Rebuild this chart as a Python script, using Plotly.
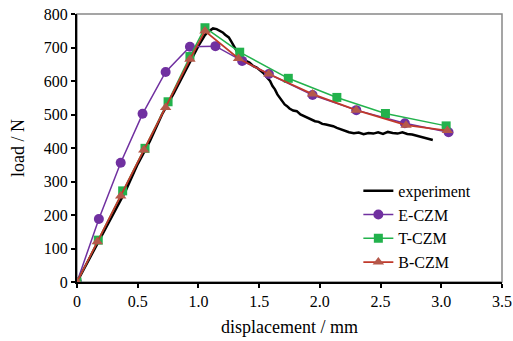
import plotly.graph_objects as go

exp_x = [0, 0.1, 0.2, 0.3, 0.4, 0.5, 0.6, 0.7, 0.8, 0.9, 1.0, 1.05, 1.08, 1.1, 1.12, 1.15, 1.18, 1.2,
         1.22, 1.25, 1.27, 1.29, 1.31, 1.33, 1.36, 1.39, 1.42, 1.45, 1.48, 1.51, 1.54, 1.57, 1.59, 1.61,
         1.63, 1.65, 1.67, 1.69, 1.71, 1.73, 1.75, 1.78, 1.81, 1.84, 1.87, 1.90, 1.93, 1.96, 1.99, 2.02,
         2.05, 2.08, 2.11, 2.14, 2.17, 2.20, 2.24, 2.28, 2.32, 2.36, 2.40, 2.44, 2.48, 2.52, 2.56, 2.60,
         2.64, 2.68, 2.72, 2.76, 2.80, 2.84, 2.88, 2.91, 2.93]
exp_y = [0, 68, 138, 205, 272, 352, 420, 500, 565, 635, 705, 735, 748, 752, 757, 755, 750, 745,
         738, 730, 718, 705, 695, 680, 672, 660, 655, 645, 640, 630, 622, 608, 600, 585,
         575, 560, 550, 540, 530, 525, 518, 512, 510, 500, 495, 490, 485, 480, 478, 472,
         470, 468, 465, 460, 456, 452, 447, 444, 446, 441, 445, 443, 447, 442, 448, 445,
         443, 447, 442, 440, 436, 433, 430, 427, 424]

e_x = [0, 0.18, 0.36, 0.54, 0.73, 0.93, 1.14, 1.36, 1.58, 1.94, 2.30, 2.70, 3.06]
e_y = [0, 188, 356, 502, 627, 702, 704, 660, 621, 558, 513, 474, 447]

t_x = [0, 0.175, 0.376, 0.56, 0.75, 0.93, 1.054, 1.34, 1.74, 2.14, 2.54, 3.04]
t_y = [0, 125, 272, 399, 538, 673, 759, 686, 608, 551, 503, 466]

b_x = [0, 0.167, 0.36, 0.55, 0.73, 0.93, 1.054, 1.33, 1.58, 1.94, 2.30, 2.71, 3.05]
b_y = [0, 120, 257, 394, 521, 665, 749, 667, 621, 561, 513, 468, 452]

x_ticks = [0, 0.5, 1.0, 1.5, 2.0, 2.5, 3.0, 3.5]
x_ticklabels = ["0", "0.5", "1.0", "1.5", "2.0", "2.5", "3.0", "3.5"]
y_ticks = [0, 100, 200, 300, 400, 500, 600, 700, 800]

font = "Liberation Serif"

fig = go.Figure()
fig.add_trace(go.Scatter(x=exp_x, y=exp_y, mode="lines", name="experiment",
                         line=dict(color="black", width=2.5)))
fig.add_trace(go.Scatter(x=e_x, y=e_y, mode="lines+markers", name="E-CZM",
                         line=dict(color="#7030A0", width=1.5),
                         marker=dict(symbol="circle", size=10, color="#7030A0")))
fig.add_trace(go.Scatter(x=t_x, y=t_y, mode="lines+markers", name="T-CZM",
                         line=dict(color="#22B24C", width=1.5),
                         marker=dict(symbol="square", size=9, color="#22B24C")))
fig.add_trace(go.Scatter(x=b_x, y=b_y, mode="lines+markers", name="B-CZM",
                         line=dict(color="#C0392B", width=1.8),
                         marker=dict(symbol="triangle-up", size=10, color="#B5584A")))

fig.add_shape(type="rect", xref="paper", yref="paper", x0=0, y0=0, x1=1, y1=1,
              line=dict(color="#888888", width=1.5), layer="below")

fig.update_layout(
    width=513, height=341,
    margin=dict(l=77, r=11, t=14, b=59),
    paper_bgcolor="white", plot_bgcolor="white",
    font=dict(family=font, size=16, color="black"),
    showlegend=True,
    legend=dict(x=0.662, y=0.404, xanchor="left", yanchor="top",
                bgcolor="rgba(0,0,0,0)", font=dict(size=16, family=font),
                tracegroupgap=0, itemwidth=30),
)
fig.update_xaxes(range=[0, 3.5], tickvals=x_ticks, ticktext=x_ticklabels, automargin=False,
                 showgrid=False, zeroline=False, showline=True, linecolor="black", linewidth=2,
                 ticks="outside", ticklen=4, tickwidth=2, tickcolor="black",
                 tickfont=dict(family=font, size=16),
                 title=dict(text="displacement / mm", font=dict(size=18, family=font), standoff=11))
fig.update_yaxes(range=[0, 800], tickvals=y_ticks, automargin=False,
                 showgrid=False, zeroline=False, showline=True, linecolor="black", linewidth=2,
                 ticks="outside", ticklen=4, tickwidth=2, tickcolor="black",
                 tickfont=dict(family=font, size=16),
                 title=dict(text="load / N", font=dict(size=18, family=font), standoff=14))

fig.write_html("out.html", config={"displayModeBar": False},
               post_script="document.body.style.margin='0';")
